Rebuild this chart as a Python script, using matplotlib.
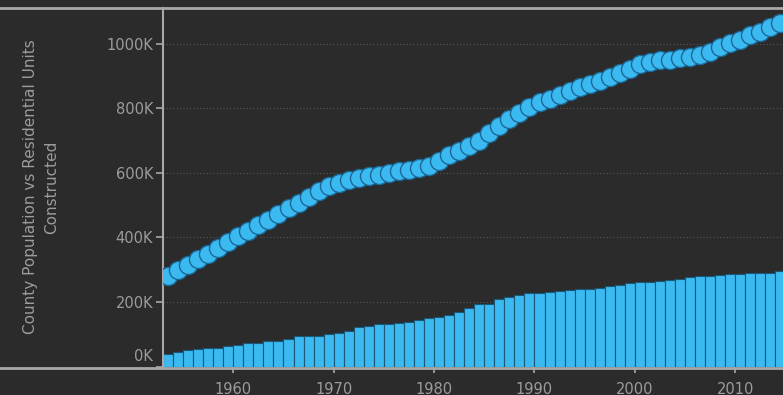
import matplotlib
matplotlib.use("Agg")
import matplotlib.pyplot as plt
from matplotlib.lines import Line2D
from matplotlib.transforms import ScaledTranslation

# yearly values, in thousands
years = list(range(1953, 2015))
population_k = [280, 298, 315, 333, 350, 368, 385, 403, 420, 438,
                455, 473, 490, 508, 525, 543, 558, 569, 578, 585,
                590, 595, 600, 605, 610, 614, 622, 638, 654, 668,
                684, 700, 725, 746, 767, 787, 803, 819, 830, 840,
                855, 866, 876, 886, 897, 911, 923, 938, 944, 949,
                950, 955, 960, 965, 974, 990, 1001, 1012, 1028, 1038,
                1053, 1065]
units_k = [40, 45, 51, 54, 57, 58, 63, 67, 73, 74,
           80, 80, 85, 94, 95, 95, 101, 104, 109, 122,
           126, 132, 132, 136, 137, 143, 149, 154, 160, 170,
           180, 193, 195, 208, 215, 221, 227, 229, 232, 235,
           237, 240, 240, 244, 249, 253, 258, 261, 263, 265,
           269, 272, 278, 282, 282, 285, 286, 287, 289, 290,
           291, 295]
y_ticks = [0, 200, 400, 600, 800, 1000]
x_ticks = [1960, 1970, 1980, 1990, 2000, 2010]

bg = "#2b2b2b"
blue = "#3bbaf2"
text_col = "#9c9c9c"
axis_col = "#a8a8a8"

W, H = 783, 395
fig = plt.figure(figsize=(W / 100, H / 100), dpi=100, facecolor=bg)
ax = fig.add_axes([163 / W, (H - 366.5) / H, 1 - 163 / W, (366.5 - 8) / H])
ax.set_facecolor(bg)

ax.bar(years, units_k, width=1.0, align="edge", color=blue,
       edgecolor="#1a5878", linewidth=0.8, zorder=2)
ax.plot([y + 0.5 for y in years], population_k, color=blue, lw=2,
        marker="o", markersize=13, markerfacecolor=blue,
        markeredgecolor="#1b6896", markeredgewidth=1.0, zorder=3)

ax.set_xlim(1953, 1953 + (W - 163) / 10.04)
ax.set_ylim(0, 1111)
ax.set_yticks(y_ticks)
ax.set_yticklabels([f"{v}K" for v in y_ticks])
ax.set_xticks(x_ticks)
ax.set_xticklabels([str(v) for v in x_ticks])

for s in ["top", "right", "bottom"]:
    ax.spines[s].set_visible(False)
ax.spines["left"].set_color(axis_col)
ax.spines["left"].set_linewidth(1.5)

ax.tick_params(axis="y", colors=axis_col, labelcolor=text_col, length=5,
               width=1.2, labelsize=10.5, pad=2)
ax.tick_params(axis="x", colors=axis_col, labelcolor=text_col, length=4,
               width=1.2, labelsize=10.5, pad=7)

# 0K label sits a bit higher in the original
lbl0 = ax.get_yticklabels()[0]
lbl0.set_transform(lbl0.get_transform() + ScaledTranslation(0, 8 / 72, fig.dpi_scale_trans))

for v in y_ticks[1:]:
    ax.axhline(v, color="#575757", lw=0.8, ls=(0, (1, 2)), zorder=1)

# pane borders across the whole width
fig.add_artist(Line2D([0, 1], [(H - 7.5) / H] * 2, color=axis_col, lw=2))
fig.add_artist(Line2D([0, 1], [(H - 367.5) / H] * 2, color=axis_col, lw=2))

fig.text(41 / W, (H - 187) / H,
         "County Population vs Residential Units\nConstructed",
         rotation=90, ha="center", va="center", multialignment="center",
         color=text_col, fontsize=11, linespacing=1.5)

fig.savefig("out.png", dpi=100, facecolor=bg)
